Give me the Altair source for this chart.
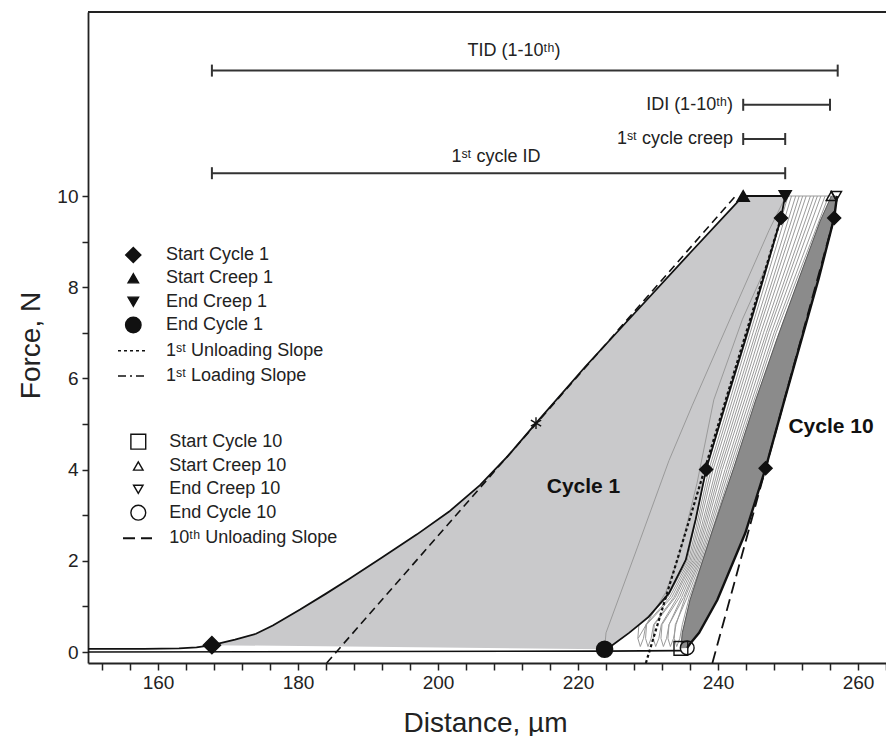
import altair as alt
import pandas as pd

FONT = "Liberation Sans, Arial, Helvetica, sans-serif"

# ---------------- data: distance (µm) / force (N) ----------------
lead_x = [150.0, 158.0, 163.0, 165.5]
lead_f = [0.07, 0.07, 0.08, 0.10]

load1_x = [167.7, 171.0, 174.0, 176.4, 180.3, 184.0, 187.3, 192.0, 197.0, 201.6, 206.0, 210.0,
           214.0, 221.0, 228.5, 236.0, 243.6]
load1_f = [0.15, 0.27, 0.40, 0.58, 0.93, 1.28, 1.60, 2.07, 2.58, 3.08, 3.66, 4.30,
           5.02, 6.25, 7.50, 8.75, 10.0]

unload1_x = [249.6, 249.0, 246.5, 243.8, 241.0, 238.3, 236.8, 235.4, 233.0, 230.1, 227.3, 224.9, 223.8]
unload1_f = [10.0, 9.52, 8.2, 6.8, 5.4, 4.0, 2.9, 2.02, 1.29, 0.77, 0.42, 0.15, 0.06]

load10_x = [234.7, 234.9, 236.0, 239.1, 242.3, 245.4, 248.5, 251.5, 254.6, 256.2]
load10_f = [0.08, 0.42, 1.14, 2.61, 4.06, 5.53, 6.90, 8.16, 9.45, 10.0]

unload10_x = [257.0, 256.6, 254.4, 249.5, 246.8, 243.9, 239.9, 237.3, 236.1, 235.6]
unload10_f = [10.0, 9.52, 8.2, 5.53, 4.03, 2.61, 1.14, 0.42, 0.2, 0.09]

base_x = [150.0, 223.8, 234.7]
base_f = [0.0, 0.02, 0.03]

# intermediate cycles (thin grey lines)
cyc2_x = [223.8, 224.0, 228.5, 233.0, 236.3, 242.0, 247.3, 249.7]
cyc2_f = [0.06, 0.42, 2.3, 4.2, 5.4, 7.4, 9.25, 10.0]
cyc3_x = [228.6, 230.5, 232.5, 234.4, 237.0, 239.4, 243.5, 247.3]
cyc3_f = [0.3, 0.8, 1.3, 2.08, 3.7, 5.53, 7.3, 8.6]

loop_f = [10, 7, 4, 2, 1.2, 0.6, 0.3, 0.12, 0.3, 0.6, 1.2, 2, 4, 7, 10]
loop1_x = [250.0, 244.3, 238.3, 235.6, 232.8, 228.7, 228.55, 228.9, 229.35, 229.7, 233.1, 235.8, 238.7, 244.6, 250.5]
loop2_x = [251.1, 245.0, 239.0, 236.0, 233.4, 229.8, 229.65, 230.0, 230.45, 230.8, 233.7, 236.2, 239.3, 245.4, 251.6]
loop3_x = [252.1, 245.7, 239.7, 236.4, 233.9, 230.9, 230.75, 231.1, 231.55, 231.9, 234.2, 236.6, 240.0, 246.1, 252.6]
loop4_x = [253.2, 246.5, 240.3, 236.8, 234.5, 232.0, 231.85, 232.2, 232.65, 233.0, 234.8, 237.0, 240.6, 246.9, 253.7]
loop5_x = [254.2, 247.2, 241.0, 237.2, 235.1, 233.0, 232.85, 233.2, 233.65, 234.0, 235.3, 237.4, 241.3, 247.6, 254.7]
loop6_x = [255.3, 248.0, 241.6, 237.6, 235.6, 233.9, 233.75, 234.1, 234.55, 234.9, 235.9, 237.8, 241.9, 248.3, 255.8]
top_x = [249.6, 256.2]
top_f = [10.0, 10.0]

# slope lines
load_slope1_x = [184.1, 242.5]
load_slope1_f = [-0.24, 10.0]
unload_slope1_x = [229.7, 249.0]
unload_slope1_f = [-0.24, 9.52]
unload_slope10_x = [239.2, 256.6]
unload_slope10_f = [-0.24, 9.52]

# event markers
mk_x = [167.7, 243.6, 249.6, 223.8, 249.0, 238.3, 256.6, 246.8, 234.7, 256.2, 256.9, 235.6, 214.0]
mk_f = [0.15, 10.0, 10.0, 0.06, 9.52, 4.0, 9.52, 4.03, 0.08, 10.0, 10.0, 0.09, 5.02]
mk_kind = ["start1", "creep1", "endcreep1", "end1", "slope", "slope", "slope", "slope",
           "start10", "creep10", "endcreep10", "end10", "mid"]

# distance bars at the top
bar_labels = ["TID (1-10ᵗʰ)", "IDI (1-10ᵗʰ)", "1ˢᵗ cycle creep", "1ˢᵗ cycle ID"]
bar_start = [167.7, 243.6, 243.6, 167.7]
bar_end = [257.1, 256.0, 249.6, 249.6]
bar_f = [12.75, 12.0, 11.25, 10.5]

legend1_labels = ["Start Cycle 1", "Start Creep 1", "End Creep 1", "End Cycle 1",
                  "1ˢᵗ Unloading Slope", "1ˢᵗ Loading Slope"]
legend2_labels = ["Start Cycle 10", "Start Creep 10", "End Creep 10", "End Cycle 10",
                  "10ᵗʰ Unloading Slope"]

x_ticks = [152, 156, 160, 164, 168, 172, 176, 180, 184, 188, 192, 196, 200, 204, 208, 212,
           216, 220, 224, 228, 232, 236, 240, 244, 248, 252, 256, 260, 264]
y_ticks = [0, 1, 2, 3, 4, 5, 6, 7, 8, 9, 10]

# ---------------- layout / style ----------------
W, H = 798, 651
XMIN, XMAX = 150.0, 264.0
FMIN, FMAX = -0.241, 14.035


def px_x(px):  # page pixel -> distance
    return XMIN + (px - 88) / 7.0


def px_f(py):  # page pixel -> force
    return (652 - py) / 45.6


marker_style = {
    "start1": ("diamond", 300, "#111"),
    "creep1": ("triangle-up", 150, "#111"),
    "endcreep1": ("triangle-down", 150, "#111"),
    "end1": ("circle", 260, "#111"),
    "slope": ("diamond", 170, "#111"),
    "start10": ("square", 190, "transparent"),
    "creep10": ("triangle-up", 110, "transparent"),
    "endcreep10": ("triangle-down", 110, "transparent"),
    "end10": ("circle", 190, "transparent"),
    "mid": ("M0,-1L0,1M-0.87,-0.5L0.87,0.5M-0.87,0.5L0.87,-0.5", 140, "transparent"),
}

xscale = alt.Scale(domain=[XMIN, XMAX], nice=False, zero=False)
yscale = alt.Scale(domain=[FMIN, FMAX], nice=False, zero=False)

xaxis = alt.Axis(values=x_ticks, labelExpr="datum.value % 20 === 0 ? datum.label : ''",
                 grid=False, tickSize=7, tickWidth=1.5, tickColor="#222", domainColor="#222",
                 domainWidth=1.8, labelFont=FONT, labelFontSize=19, labelColor="#222",
                 labelPadding=3, labelOverlap=False, labelFlush=False,
                 title="Distance, µm", titleFont=FONT, titleFontSize=28, titleFontWeight="normal",
                 titleColor="#222", titleX=397, titleY=68, titleBaseline="alphabetic",
                 titleAlign="center")
yaxis = alt.Axis(values=y_ticks, labelExpr="datum.value % 2 === 0 ? datum.label : ''",
                 grid=False, tickSize=6, tickWidth=1.5, tickColor="#222", domainColor="#222",
                 domainWidth=1.8, labelFont=FONT, labelFontSize=19, labelColor="#222",
                 labelPadding=4, labelOverlap=False, labelFlush=False,
                 title="Force, N", titleFont=FONT, titleFontSize=28, titleFontWeight="normal",
                 titleColor="#222", titleX=-49, titleY=333, titleBaseline="alphabetic",
                 titleAlign="center", titleAngle=270)


def X(field="x"):
    return alt.X(f"{field}:Q", scale=xscale, axis=xaxis)


def Y(field="f"):
    return alt.Y(f"{field}:Q", scale=yscale, axis=yaxis)


def path(xs, fs, name):
    return pd.DataFrame({"x": xs, "f": fs, "i": list(range(len(xs))), "curve": name})


def line_layer(df, **mark):
    return alt.Chart(df).mark_line(**mark).encode(
        x=X(), y=Y(), order="i:Q", detail="curve:N")


# fills
poly1 = path(load1_x + unload1_x, load1_f + unload1_f, "c1")
poly10 = path(load10_x + unload10_x, load10_f + unload10_f, "c10")
fill1 = line_layer(poly1, fill="#c9c9cb", stroke="#c9c9cb", strokeWidth=0.5)
fill10 = line_layer(poly10, fill="#8b8b8b", stroke="#8b8b8b", strokeWidth=0.5)

# thin grey cycles
greys = pd.concat([
    path(cyc2_x, cyc2_f, "c2"), path(cyc3_x, cyc3_f, "c3"),
    path(loop1_x, loop_f, "l1"), path(loop2_x, loop_f, "l2"), path(loop3_x, loop_f, "l3"),
    path(loop4_x, loop_f, "l4"), path(loop5_x, loop_f, "l5"), path(loop6_x, loop_f, "l6"),
    path(top_x, top_f, "top"),
])
grey_lines = line_layer(greys, stroke="#9a9a9a", strokeWidth=1)
load10_line = line_layer(path(load10_x, load10_f, "l10"), stroke="#5a5a5a", strokeWidth=1)

# black curves
cycle1 = path(lead_x + load1_x + unload1_x, lead_f + load1_f + unload1_f, "c1")
black1 = line_layer(cycle1, stroke="#111", strokeWidth=1.8)
base = line_layer(path(base_x, base_f, "base"), stroke="#111", strokeWidth=1.6)
black10 = line_layer(path(unload10_x, unload10_f, "u10"), stroke="#111", strokeWidth=2.4)

# slope lines
slope_l1 = line_layer(path(load_slope1_x, load_slope1_f, "s1"), stroke="#111", strokeWidth=1.6,
                      strokeDash=[8, 5])
slope_u1 = line_layer(path(unload_slope1_x, unload_slope1_f, "s2"), stroke="#111", strokeWidth=2.2,
                      strokeDash=[3, 2.5])
slope_u10 = line_layer(path(unload_slope10_x, unload_slope10_f, "s3"), stroke="#111", strokeWidth=1.8,
                       strokeDash=[12, 6])

# top distance bars
bars = pd.DataFrame({"x": bar_start, "x2": bar_end, "f": bar_f})
cap_h = 6 / 45.6
caps = pd.DataFrame({"x": bar_start + bar_end, "f": [v - cap_h for v in bar_f * 2],
                     "f2": [v + cap_h for v in bar_f * 2]})
bar_rules = alt.Chart(bars).mark_rule(color="#333", strokeWidth=2).encode(
    x=X(), x2="x2:Q", y=Y())
cap_rules = alt.Chart(caps).mark_rule(color="#333", strokeWidth=2).encode(
    x=X(), y=Y(), y2="f2:Q")

bar_text_pos = [(px_x(514), px_f(51), "center"), (px_x(733), 12.0, "right"),
                (px_x(733), 11.25, "right"), (px_x(496), px_f(157), "center")]
bar_txt = pd.DataFrame({"x": [p[0] for p in bar_text_pos], "f": [p[1] for p in bar_text_pos],
                        "t": bar_labels, "a": [p[2] for p in bar_text_pos]})
txt_c = alt.Chart(bar_txt[bar_txt.a == "center"]).mark_text(
    font=FONT, fontSize=18, color="#222", align="center", baseline="middle").encode(
    x=X(), y=Y(), text="t:N")
txt_r = alt.Chart(bar_txt[bar_txt.a == "right"]).mark_text(
    font=FONT, fontSize=18, color="#222", align="right", baseline="middle").encode(
    x=X(), y=Y(), text="t:N")

# cycle labels
cyc_lab = pd.DataFrame({"x": [px_x(583.5), px_x(831)], "f": [px_f(487), px_f(427)],
                        "t": ["Cycle 1", "Cycle 10"]})
cyc_txt = alt.Chart(cyc_lab).mark_text(font=FONT, fontSize=21, fontWeight="bold", color="#111",
                                       align="center", baseline="middle").encode(
    x=X(), y=Y(), text="t:N")

# markers (plot + legend)
leg1_rows = [255, 278.3, 301.7, 325, 350.7, 376]
leg2_rows = [441.7, 466, 489.3, 512.7, 538.3]
leg1_kinds = ["start1", "creep1", "endcreep1", "end1"]
leg2_kinds = ["start10", "creep10", "endcreep10", "end10"]
leg_size = {"start1": 230, "creep1": 110, "endcreep1": 110, "end1": 240,
            "start10": 220, "creep10": 90, "endcreep10": 90, "end10": 220}

rows = []
for x, f, k in zip(mk_x, mk_f, mk_kind):
    s, z, c = marker_style[k]
    rows.append({"x": x, "f": f, "shape": s, "size": z, "fill": c})
for k, r in zip(leg1_kinds, leg1_rows):
    s, z, c = marker_style[k]
    rows.append({"x": px_x(133.3), "f": px_f(r), "shape": s, "size": leg_size[k], "fill": c})
for k, r in zip(leg2_kinds, leg2_rows):
    s, z, c = marker_style[k]
    rows.append({"x": px_x(138.3), "f": px_f(r), "shape": s, "size": leg_size[k], "fill": c})
markers = alt.Chart(pd.DataFrame(rows)).mark_point(
    filled=True, stroke="#111", strokeWidth=1.4, opacity=1).encode(
    x=X(), y=Y(),
    shape=alt.Shape("shape:N", scale=None),
    size=alt.Size("size:Q", scale=None),
    fill=alt.Fill("fill:N", scale=None))

# legend texts
leg_txt = pd.DataFrame({
    "x": [px_x(166)] * len(legend1_labels) + [px_x(169.3)] * len(legend2_labels),
    "f": [px_f(r) for r in leg1_rows] + [px_f(r) for r in leg2_rows],
    "t": legend1_labels + legend2_labels})
legend_text = alt.Chart(leg_txt).mark_text(font=FONT, fontSize=18, color="#222", align="left",
                                           baseline="middle").encode(x=X(), y=Y(), text="t:N")


def leg_line(x0, x1, row, dash, width):
    df = pd.DataFrame({"x": [px_x(x0)], "x2": [px_x(x1)], "f": [px_f(row)]})
    return alt.Chart(df).mark_rule(color="#111", strokeWidth=width, strokeDash=dash).encode(
        x=X(), x2="x2:Q", y=Y())


leg_l1 = leg_line(118, 148, leg1_rows[4], [3, 3], 1.6)
leg_l2 = leg_line(118, 148, leg1_rows[5], [8, 4, 2, 4], 1.6)
leg_l3 = leg_line(123, 152, leg2_rows[4], [12, 6], 2)

top_border = alt.Chart(pd.DataFrame({"a": [0]})).mark_rule(color="#222", strokeWidth=1.8).encode(
    x=alt.value(0), x2=alt.value(W), y=alt.value(0))

chart = alt.layer(
    fill1, fill10, grey_lines, load10_line, base, black1, black10,
    slope_l1, slope_u1, slope_u10, bar_rules, cap_rules, txt_c, txt_r, cyc_txt,
    markers, legend_text, leg_l1, leg_l2, leg_l3, top_border,
).properties(
    width=W, height=H,
    autosize=alt.AutoSizeParams(type="none"),
    padding={"left": 88, "top": 12, "right": 0, "bottom": 73},
    background="white",
).configure_view(strokeWidth=0)

chart.save("out.html", embed_options={"renderer": "svg", "actions": False})
